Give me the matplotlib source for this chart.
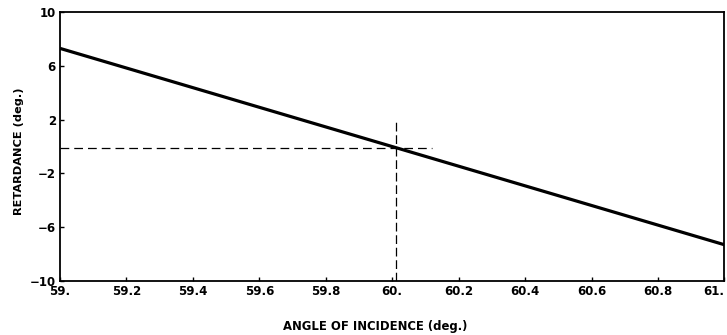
import matplotlib
matplotlib.use("Agg")
import matplotlib.pyplot as plt

plt.rcParams['font.family'] = ['DejaVu Sans']

# Data
angle = [59.0, 61.0]
retardance = [7.3, -7.3]
h_dash_x = [59.0, 60.12]
h_dash_y = [-0.1, -0.1]
v_dash_x = [60.01, 60.01]
v_dash_y = [-10.0, 1.8]
xticks = [59.0, 59.2, 59.4, 59.6, 59.8, 60.0, 60.2, 60.4, 60.6, 60.8, 61.0]
xticklabels = ["59.", "59.2", "59.4", "59.6", "59.8", "60.", "60.2", "60.4", "60.6", "60.8", "61."]
yticks = [10, 6, 2, -2, -6, -10]
yticklabels = ["10", "6", "2", "\u22122", "\u22126", "\u221210"]

fig = plt.figure(figsize=(7.27, 3.35), dpi=100)
ax = fig.add_axes([0.0825, 0.161, 0.914, 0.803])

ax.plot(angle, retardance, color='black', lw=2.3, solid_capstyle='butt')
ax.plot(h_dash_x, h_dash_y, color='black', lw=0.9, dashes=(7, 4))
ax.plot(v_dash_x, v_dash_y, color='black', lw=0.9, dashes=(7, 3))

ax.set_xlim(59.0, 61.0)
ax.set_ylim(-10, 10)
ax.set_xticks(xticks)
ax.set_xticklabels(xticklabels, fontsize=8.5, fontweight='bold')
ax.set_yticks(yticks)
ax.set_yticklabels(yticklabels, fontsize=8.5, fontweight='bold')
ax.tick_params(direction='in', length=3, width=1, pad=3)
lbls = ax.get_xticklabels()
lbls[-1].set_horizontalalignment('right')
lbls[-1].set_x(61.0)

for s in ax.spines.values():
    s.set_linewidth(1.3)

ax.set_xlabel("ANGLE OF INCIDENCE (deg.)", fontsize=8.4, fontweight='bold')
ax.set_ylabel("RETARDANCE (deg.)", fontsize=8.2, fontweight='bold')
ax.xaxis.set_label_coords(0.474, -0.145)
ax.yaxis.set_label_coords(-0.054, 0.483)

fig.savefig("out.png", dpi=100)
